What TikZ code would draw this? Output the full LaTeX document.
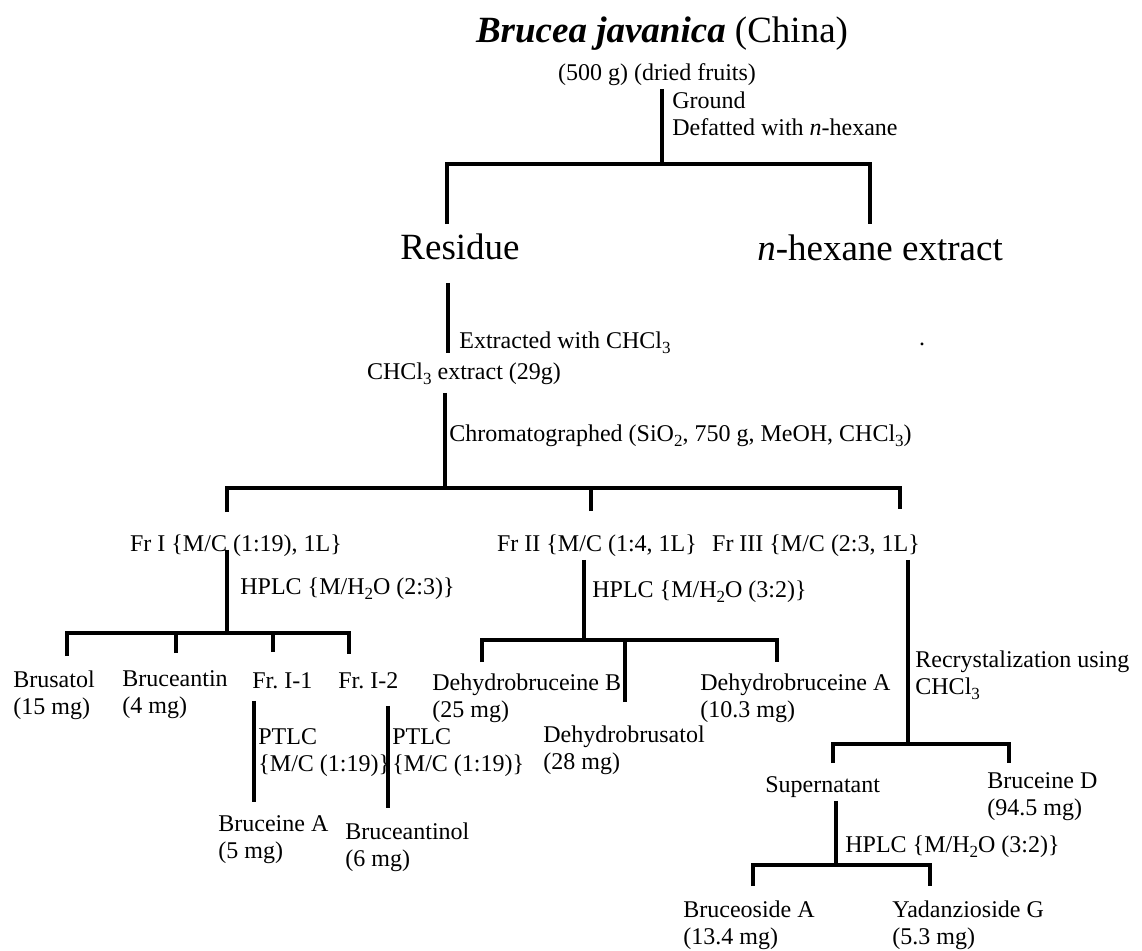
\documentclass[tikz,border=0pt]{standalone}
\usepackage{fontspec}
\setmainfont{Liberation Serif}
\usepackage{tikz}
\usetikzlibrary{positioning,calc}
\frenchspacing
\newcommand{\lowidx}[1]{\raisebox{-0.45ex}{\fontsize{8.5}{9}\selectfont #1}}
\tikzset{
  headnode/.style={
    inner sep=0pt, font=\fontsize{18.5}{22}\selectfont,
    execute at begin node=\strut, execute at end node=\strut
  },
  stepnote/.style={
    inner sep=0pt, font=\fontsize{12}{13.5}\selectfont, align=left,
    execute at begin node=\strut, execute at end node=\strut
  },
  treeline/.style={line width=1.6pt},
}

\begin{document}
\begin{tikzpicture}[x=0.5pt, y=-0.5pt]
  \useasboundingbox (0,0) rectangle (1142,950);

  % ── plant material ──
  \node[headnode, anchor=north] (plant) at (662,11) {\textbf{\textit{Brucea javanica}} (China)};
  \node[stepnote, anchor=north] (fruits) at (657,61) {(500 g) (dried fruits)};
  \node[stepnote, anchor=north west] (defat) at (672,91) {Ground\\Defatted with \textit{n}-hexane};
  \node[headnode, anchor=north] (res) at (460,228) {Residue};
  \node[headnode, anchor=north] (hex) at (880,229) {\textit{n}-hexane extract};

  \coordinate (split0) at (662,164);
  \coordinate (resleg) at (447,224);
  \coordinate (hexleg) at (870,224);
  \draw[treeline] (fruits.south -| split0) -- (split0);
  \draw[treeline] (resleg) |- (split0) -| (hexleg);

  % ── CHCl3 extraction ──
  \coordinate (resstem) at (448,300);
  \node[stepnote, anchor=north west] (extnote) at (459,329) {Extracted with CHCl\lowidx{3}};
  \node[stepnote, anchor=base] (dot) at (922,345) {.};
  \node[stepnote, anchor=north] (chcl) at (464,360) {CHCl\lowidx{3} extract (29g)};
  \draw[treeline, shorten <=5pt, shorten >=3.5pt] (res.south -| resstem) -- (chcl.north -| resstem);

  % ── silica column ──
  \coordinate (split1) at (445,488);
  \node[stepnote, anchor=north west] (chrom) at (449,422) {Chromatographed (SiO\lowidx{2}, 750 g, MeOH, CHCl\lowidx{3})};
  \draw[treeline, shorten <=2.5pt] (chcl.south -| split1) -- (split1);
  \coordinate (leg1a) at (227,512);
  \coordinate (leg1b) at (591,511);
  \coordinate (leg1c) at (900,509);
  \draw[treeline] (leg1a) |- (split1) -| (leg1c);
  \draw[treeline] (leg1b) -- (leg1b |- split1);

  \node[stepnote, anchor=north] (fr1) at (236,532) {Fr I \{M/C (1:19), 1L\}};
  \node[stepnote, anchor=north] (fr2) at (597,532) {Fr II \{M/C (1:4, 1L\}};
  \node[stepnote, anchor=north] (fr3) at (816,532) {Fr III \{M/C (2:3, 1L\}};

  % ── Fr I ──
  \coordinate (split2) at (227,633);
  \node[stepnote, anchor=north west] (hplc1) at (240,575) {HPLC \{M/H\lowidx{2}O (2:3)\}};
  \draw[treeline, shorten <=-5pt] (fr1.south -| split2) -- (split2);
  \coordinate (leg2a) at (67,656);
  \coordinate (leg2b) at (176,653);
  \coordinate (leg2c) at (273,652);
  \coordinate (leg2d) at (349,654);
  \draw[treeline] (leg2a) |- (split2) -| (leg2d);
  \draw[treeline] (leg2b) -- (leg2b |- split2);
  \draw[treeline] (leg2c) -- (leg2c |- split2);

  \node[stepnote, anchor=north west] (brus) at (13,670) {Brusatol\\(15 mg)};
  \node[stepnote, anchor=north west] (bant) at (122,670) {Bruceantin\\(4 mg)};
  \node[stepnote, anchor=north west] (fr11) at (252,669) {Fr. I-1};
  \node[stepnote, anchor=north west] (fr12) at (338,669) {Fr. I-2};

  \coordinate (ptlc1end) at (254,802);
  \coordinate (ptlc2end) at (388,808);
  \draw[treeline, shorten <=2pt] (fr11.south -| ptlc1end) -- (ptlc1end);
  \draw[treeline, shorten <=4.5pt] (fr12.south -| ptlc2end) -- (ptlc2end);
  \node[stepnote, anchor=north west] (ptlc1) at (258,728) {PTLC\\\{M/C (1:19)\}};
  \node[stepnote, anchor=north west] (ptlc2) at (392,728) {PTLC\\\{M/C (1:19)\}};
  \node[stepnote, anchor=north west] (bruA) at (218,815) {Bruceine A\\(5 mg)};
  \node[stepnote, anchor=north west] (bantol) at (345,822) {Bruceantinol\\(6 mg)};

  % ── Fr II ──
  \coordinate (split3) at (584,640);
  \node[stepnote, anchor=north west] (hplc2) at (592,578) {HPLC \{M/H\lowidx{2}O (3:2)\}};
  \draw[treeline] (fr2.south -| split3) -- (split3);
  \coordinate (leg3a) at (482,662);
  \coordinate (leg3b) at (625,702);
  \coordinate (leg3c) at (777,662);
  \draw[treeline] (leg3a) |- (split3) -| (leg3c);
  \draw[treeline] (leg3b) -- (leg3b |- split3);

  \node[stepnote, anchor=north west] (dhB) at (432,673) {Dehydrobruceine B\\(25 mg)};
  \node[stepnote, anchor=north west] (dhbrus) at (543,725) {Dehydrobrusatol\\(28 mg)};
  \node[stepnote, anchor=north west] (dhA) at (700,673) {Dehydrobruceine A\\(10.3 mg)};

  % ── Fr III ──
  \coordinate (split4) at (908,744);
  \node[stepnote, anchor=north west] (recry) at (915,650) {Recrystalization using\\CHCl\lowidx{3}};
  \draw[treeline] (fr3.south -| split4) -- (split4);
  \coordinate (leg4a) at (833,763);
  \coordinate (leg4b) at (1009,763);
  \draw[treeline] (leg4a) |- (split4) -| (leg4b);

  \node[stepnote, anchor=north west] (super) at (765,773) {Supernatant};
  \node[stepnote, anchor=north west] (bruD) at (987,772) {Bruceine D\\(94.5 mg)};

  \coordinate (split5) at (836,865);
  \node[stepnote, anchor=north west] (hplc3) at (845,833) {HPLC \{M/H\lowidx{2}O (3:2)\}};
  \draw[treeline] (super.south -| split5) -- (split5);
  \coordinate (leg5a) at (753,886);
  \coordinate (leg5b) at (930,886);
  \draw[treeline] (leg5a) |- (split5) -| (leg5b);

  \node[stepnote, anchor=north west] (bsA) at (683,900) {Bruceoside A\\(13.4 mg)};
  \node[stepnote, anchor=north west] (yadG) at (892,900) {Yadanzioside G\\(5.3 mg)};
\end{tikzpicture}
\end{document}
